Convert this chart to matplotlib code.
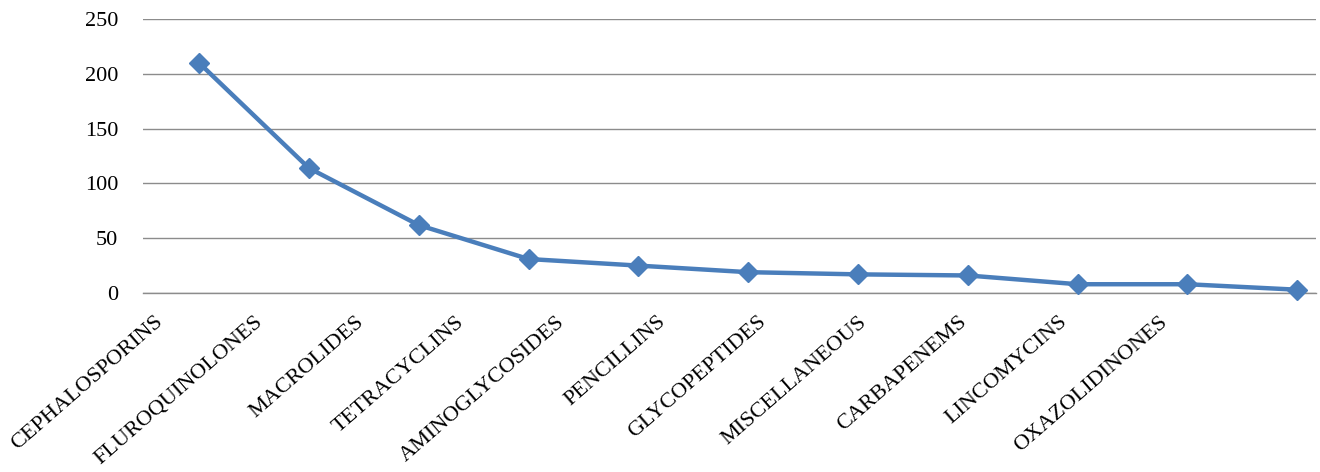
import matplotlib
matplotlib.use("Agg")
import matplotlib.pyplot as plt

# antibiotic classes and number of prescriptions
classes = ["CEPHALOSPORINS", "FLUROQUINOLONES", "MACROLIDES", "TETRACYCLINS",
           "AMINOGLYCOSIDES", "PENCILLINS", "GLYCOPEPTIDES", "MISCELLANEOUS",
           "CARBAPENEMS", "LINCOMYCINS", "OXAZOLIDINONES"]
counts = [210, 114, 62, 31, 25, 19, 17, 16, 8, 8, 3]
yticks = [0, 50, 100, 150, 200, 250]

plt.rcParams['font.family'] = ['Liberation Serif', 'DejaVu Serif']

fig = plt.figure(figsize=(13.2, 4.72), dpi=100)
ax = fig.add_axes([143/1320, 179/472, 1173/1320, 274/472])

x = list(range(len(classes)))
ax.plot(x, counts, color='#4A7EBB', linewidth=3.2, marker='D', markersize=10,
        markerfacecolor='#4A7EBB', markeredgecolor='#4A7EBB', zorder=3,
        clip_on=False)

ax.set_xlim(-0.51, 10.17)
ax.set_ylim(0, 250)
ax.set_yticks(yticks)
ax.set_yticklabels([str(v) for v in yticks], fontsize=16)
ax.tick_params(axis='y', length=0, pad=18)
ax.yaxis.grid(True, color='#8c8c8c', linewidth=1)
ax.set_axisbelow(True)
for s in ax.spines.values():
    s.set_visible(False)
ax.spines['bottom'].set_visible(True)
ax.spines['bottom'].set_color('#8c8c8c')
ax.spines['bottom'].set_linewidth(1)
ax.set_xticks([])

# category labels sit on a twin axis with slightly tighter spacing
lab = ax.twiny()
lab.set_position(ax.get_position())
lab.xaxis.set_ticks_position('bottom')
for s in lab.spines.values():
    s.set_visible(False)
lab.set_xlim(-0.11, 11.56)
lab.set_xticks(x)
lab.set_xticklabels(classes, rotation=41, ha='right', va='top',
                    rotation_mode='anchor', fontsize=16)
lab.tick_params(axis='x', length=0, pad=14)

fig.savefig("out.png", dpi=100, facecolor='white')
